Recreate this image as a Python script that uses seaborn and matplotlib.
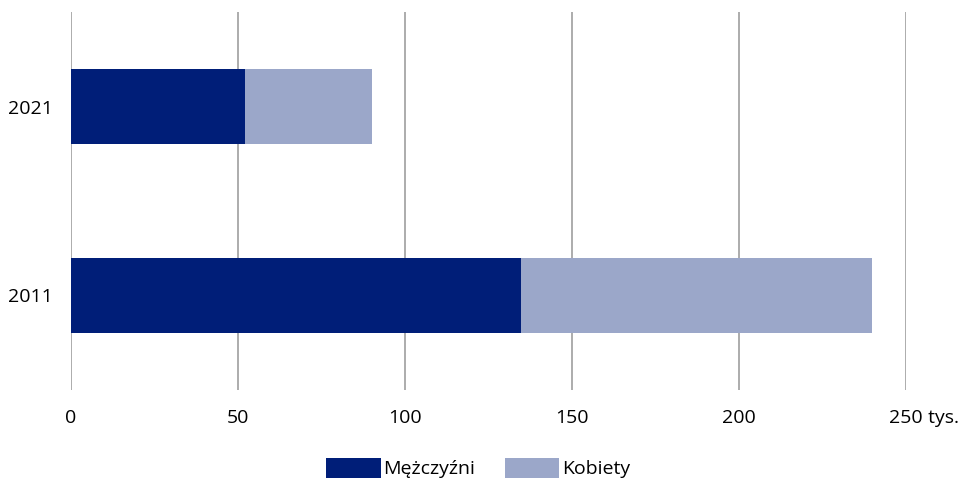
import matplotlib
matplotlib.use("Agg")
import matplotlib.pyplot as plt
import seaborn as sns
import pandas as pd
from matplotlib.patches import Patch

years = ["2021", "2011"]
men = [52.0, 134.7]
women = [38.0, 105.1]
xticks = [0, 50, 100, 150, 200, 250]
xtick_labels = ["0", "50", "100", "150", "200", "250"]
unit_label = " tys."
series_names = ["Mężczyźni", "Kobiety"]
colors = ["#001E78", "#9BA7C9"]

sns.set_theme(style="white")
plt.rcParams['font.family'] = ['Open Sans', 'DejaVu Sans']
plt.rcParams['text.color'] = 'black'

totals = [m + w for m, w in zip(men, women)]
df = pd.DataFrame({"year": years, "men": men, "total": totals})

fig = plt.figure(figsize=(9.62, 4.79), dpi=100)
ax = fig.add_axes([71/962, 1 - 390/479, (906-71)/962, (390-12)/479])

sns.barplot(data=df, x="total", y="year", order=years, color=colors[1],
            width=0.4, ax=ax, orient="h", saturation=1, linewidth=0)
sns.barplot(data=df, x="men", y="year", order=years, color=colors[0],
            width=0.4, ax=ax, orient="h", saturation=1, linewidth=0)

ax.set_xlim(0, 250)
ax.set_ylim(1.5, -0.5)
ax.set_xticks(xticks)
ax.set_xticklabels(xtick_labels)
ax.xaxis.grid(True, color="#A6A6A6", linewidth=1.3)
ax.set_axisbelow(True)
for s in ax.spines.values():
    s.set_visible(False)
ax.tick_params(axis="both", length=0, labelsize=14, colors="black")
ax.tick_params(axis="x", pad=14)
ax.tick_params(axis="y", pad=13)
ax.set_xlabel("")
ax.set_ylabel("")

last_label = ax.get_xticklabels()[-1]
ax.annotate(unit_label, xy=(1, 0), xycoords=last_label, ha="left", va="bottom",
            fontsize=14, color="black", annotation_clip=False)

handles = [Patch(facecolor=c, edgecolor="none") for c in colors]
fig.legend(handles, series_names, loc="lower center", bbox_to_anchor=(0.497, -0.035),
           ncol=2, frameon=False, fontsize=14, handlelength=2.8, handleheight=1.2,
           handletextpad=0.15, columnspacing=1.5)

fig.savefig("out.png", dpi=100)
